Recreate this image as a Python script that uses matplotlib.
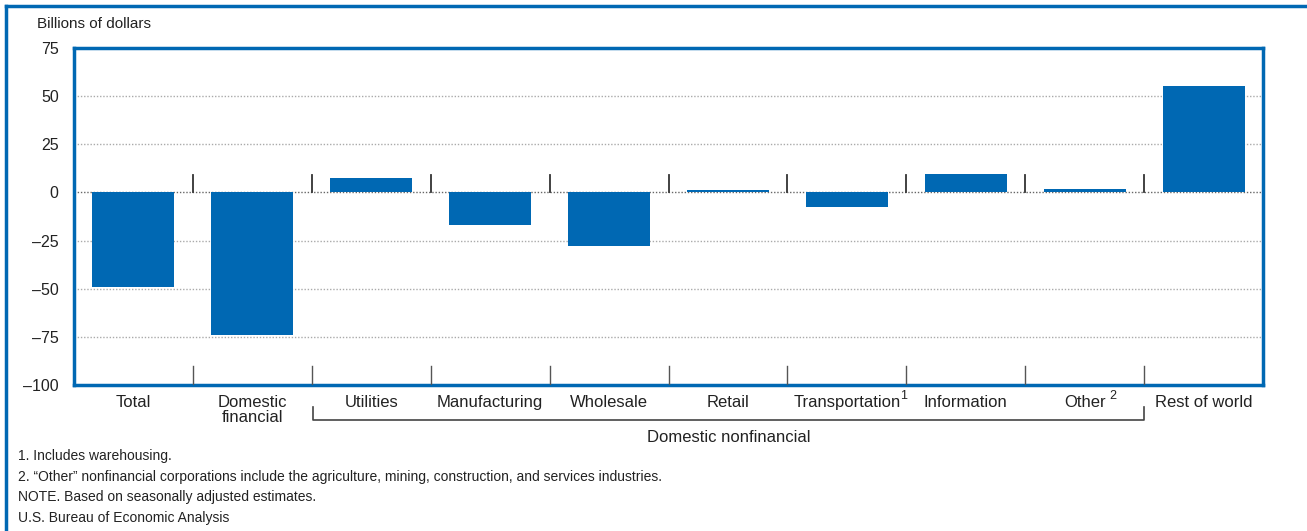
import matplotlib.pyplot as plt
from matplotlib.lines import Line2D
import numpy as np

plt.rcParams["font.family"] = ["Liberation Sans", "DejaVu Sans"]

CATEGORIES = ["Total", "Domestic\nfinancial", "Utilities", "Manufacturing", "Wholesale",
              "Retail", "Transportation", "Information", "Other", "Rest of world"]
FOOTNOTE_MARKS = {"Transportation": "1", "Other": "2"}
VALUES = [-49, -74, 7.5, -17, -28, 1.2, -7.7, 9.5, 2, 55.5]
YTICKS = [-100, -75, -50, -25, 0, 25, 50, 75]
FOOTNOTES = [
    "1. Includes warehousing.",
    "2. \u201cOther\u201d nonfinancial corporations include the agriculture, mining, construction, and services industries.",
    "NOTE. Based on seasonally adjusted estimates.",
    "U.S. Bureau of Economic Analysis",
]

BLUE = "#0068b3"
TEXT = "#222222"

fig = plt.figure(figsize=(13.07, 5.31), dpi=100)
ax = fig.add_axes([74 / 1307, 1 - 385 / 531, (1263 - 74) / 1307, (385 - 48) / 531])

x = np.arange(len(CATEGORIES))
ax.bar(x, VALUES, width=0.69, color=BLUE, zorder=3)

ax.set_xlim(-0.5, len(CATEGORIES) - 0.5)
ax.set_ylim(-100, 75)
ax.set_yticks(YTICKS)
ax.set_yticklabels([str(v).replace("-", "\u2013") for v in YTICKS], fontsize=11.5, color=TEXT)
ax.tick_params(axis="y", length=0, pad=11)
ax.set_xticks(x)
labels = ax.set_xticklabels(CATEGORIES, fontsize=12, color=TEXT, linespacing=1.0)
ax.tick_params(axis="x", length=0, pad=7)

# footnote superscripts next to labels
for lab in labels:
    mark = FOOTNOTE_MARKS.get(lab.get_text())
    if mark:
        if mark == "2":
            lab.set_x(lab.get_position()[0] - 0.05)
        gap = 0 if mark == "1" else 3
        ax.annotate(mark, xy=(1, 1), xycoords=lab, xytext=(gap, 3.5), textcoords="offset points",
                    ha="left", va="top", fontsize=9, color=TEXT)

for y in YTICKS[1:-1]:
    if y == 0:
        ax.axhline(y, color="#666666", lw=1.0, ls=(0, (1, 1.3)), zorder=2)
    else:
        ax.axhline(y, color="#aaaaaa", lw=1.0, ls=(0, (1, 1.3)), zorder=2)

# separators between categories, at zero line and at the bottom
for b in x[:-1] + 0.5:
    ax.plot([b, b], [0, 9], color="#333333", lw=1.3, zorder=4)
    ax.plot([b, b], [-100, -90], color="#555555", lw=1.0, zorder=4)

for s in ax.spines.values():
    s.set_color(BLUE)
    s.set_linewidth(2.5)

# bracket for domestic nonfinancial
bx0 = (313 - 74) / (1263 - 74)
bx1 = (1144 - 74) / (1263 - 74)
ylo = -(420 - 385) / 337
yhi = -(407 - 385) / 337
ax.add_line(Line2D([bx0, bx0, bx1, bx1], [yhi, ylo, ylo, yhi], transform=ax.transAxes,
                   color="#444444", lw=1.2, clip_on=False))
fig.text(729 / 1307, 1 - 437 / 531, "Domestic nonfinancial", ha="center", va="center",
         fontsize=12, color=TEXT)

fig.text(37 / 1307, 1 - 24 / 531, "Billions of dollars", ha="left", va="center",
         fontsize=11, color=TEXT)

for i, note in enumerate(FOOTNOTES):
    fig.text(18 / 1307, 1 - (456 + i * 20.7) / 531, note, ha="left", va="center",
             fontsize=10, color=TEXT)

# outer frame (left and top)
fig.add_artist(Line2D([6 / 1307, 6 / 1307], [0, 1 - 6 / 531], transform=fig.transFigure,
                      color=BLUE, lw=2.5))
fig.add_artist(Line2D([6 / 1307, 1], [1 - 6 / 531, 1 - 6 / 531], transform=fig.transFigure,
                      color=BLUE, lw=2.5))

fig.savefig("out.png", dpi=100)
